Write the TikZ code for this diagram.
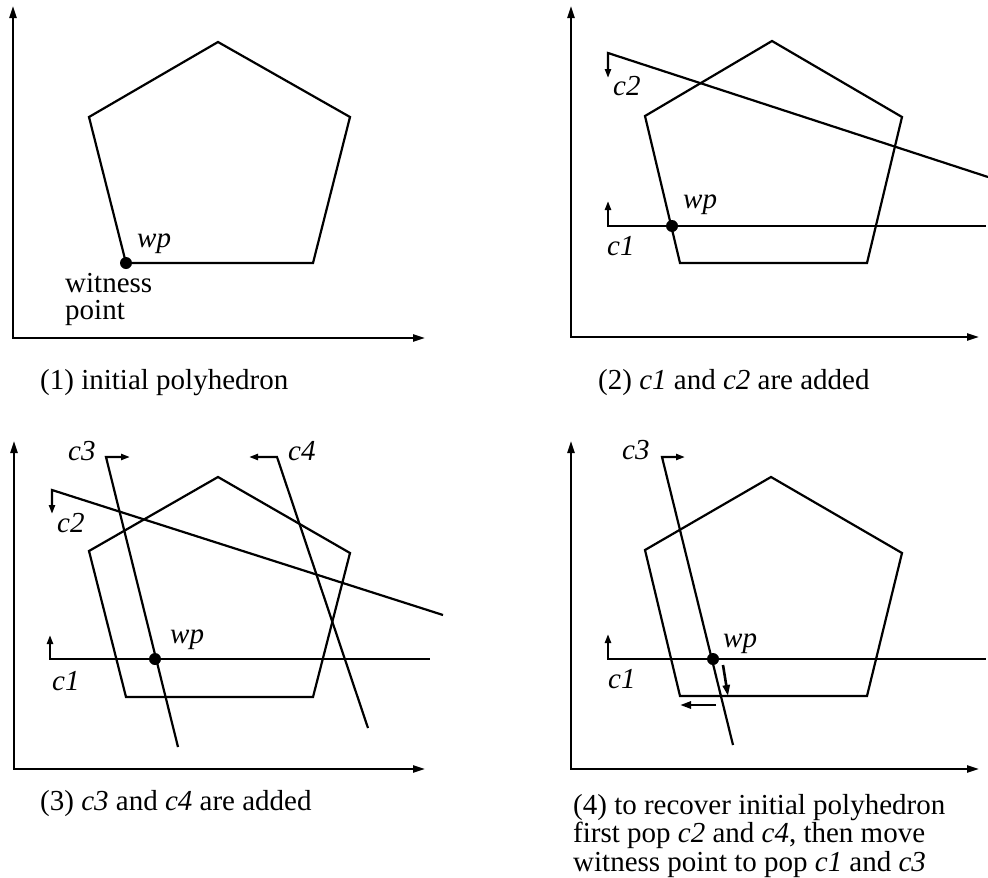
\documentclass[tikz,border=0pt]{standalone}
\usepackage{fontspec}
\setmainfont{Liberation Serif}
\usetikzlibrary{arrows.meta}
\tikzset{
  ln/.style={line width=2.2pt, line join=miter},
  axisln/.style={line width=2.2pt, {Triangle[length=12pt,width=7pt]}-{Triangle[length=12pt,width=7pt]}},
  tipstart/.style={line width=2.2pt, {Triangle[length=9pt,width=6pt]}-},
  tick/.style={line width=2.6pt, -{Triangle[length=11pt,width=7pt]}},
  lbl/.style={anchor=base west, inner sep=0pt, font=\fontsize{29}{27}\selectfont\itshape},
  txt/.style={anchor=base west, inner sep=0pt, font=\fontsize{29}{27}\selectfont},
  wpdot/.style={circle, fill=black, inner sep=0pt, minimum size=12pt},
}
\begin{document}
\begin{tikzpicture}[x=1pt,y=-1pt]
\useasboundingbox (0,0) rectangle (988,878);
% ================= Panel 1 =================
\coordinate (p1yt) at (13,6);
\coordinate (p1o) at (13,338);
\coordinate (p1xr) at (425,338);
\draw[axisln] (p1yt) -- (p1o) -- (p1xr);
\coordinate (p1A) at (218,42);
\coordinate (p1B) at (350,117);
\coordinate (p1C) at (313,263);
\coordinate (p1D) at (126,263);
\coordinate (p1E) at (89,117);
\draw[ln] (p1A) -- (p1B) -- (p1C) -- (p1D) -- (p1E) -- cycle;
\node[wpdot] (p1wp) at (p1D) {};
\node[lbl] (p1wpl) at (137,247) {wp};
\node[txt] (p1w1) at (65,292) {witness};
\node[txt] (p1w2) at (65,319) {point};
\node[txt] (cap1) at (40,389) {(1) initial polyhedron};
% ================= Panel 2 =================
\coordinate (p2yt) at (571,6);
\coordinate (p2o) at (571,337);
\coordinate (p2xr) at (979,337);
\draw[axisln] (p2yt) -- (p2o) -- (p2xr);
\coordinate (p2A) at (772,41);
\coordinate (p2B) at (902,117);
\coordinate (p2C) at (867,263);
\coordinate (p2D) at (680,263);
\coordinate (p2E) at (645,116);
\draw[ln] (p2A) -- (p2B) -- (p2C) -- (p2D) -- (p2E) -- cycle;
% c2
\coordinate (p2c2t) at (608,78);
\coordinate (p2c2a) at (608,53);
\coordinate (p2c2b) at (988,177);
\draw[tipstart] (p2c2t) -- (p2c2a) -- (p2c2b);
% c1
\coordinate (p2c1t) at (608,201);
\coordinate (p2c1a) at (608,226);
\coordinate (p2c1b) at (986,226);
\draw[tipstart] (p2c1t) -- (p2c1a) -- (p2c1b);
\node[wpdot] (p2wp) at (672,226) {};
\node[lbl] (p2wpl) at (683,208) {wp};
\node[lbl] (p2c2l) at (613,95) {c2};
\node[lbl] (p2c1l) at (607,255) {c1};
\node[txt] (cap2) at (598,389) {(2) \textit{c1} and \textit{c2} are added};
% ================= Panel 3 =================
\coordinate (p3yt) at (14,441);
\coordinate (p3o) at (14,769);
\coordinate (p3xr) at (425,769);
\draw[axisln] (p3yt) -- (p3o) -- (p3xr);
\coordinate (p3A) at (218,477);
\coordinate (p3B) at (350,553);
\coordinate (p3C) at (313,697);
\coordinate (p3D) at (126,697);
\coordinate (p3E) at (89,551);
\draw[ln] (p3A) -- (p3B) -- (p3C) -- (p3D) -- (p3E) -- cycle;
% c2
\coordinate (p3c2t) at (52,514);
\coordinate (p3c2a) at (52,490);
\coordinate (p3c2b) at (443,615);
\draw[tipstart] (p3c2t) -- (p3c2a) -- (p3c2b);
% c1
\coordinate (p3c1t) at (50,635);
\coordinate (p3c1a) at (50,659);
\coordinate (p3c1b) at (430,659);
\draw[tipstart] (p3c1t) -- (p3c1a) -- (p3c1b);
% c3
\coordinate (p3c3t) at (130,457);
\coordinate (p3c3a) at (106,457);
\coordinate (p3c3b) at (178,747);
\draw[tipstart] (p3c3t) -- (p3c3a) -- (p3c3b);
% c4
\coordinate (p3c4t) at (249,457);
\coordinate (p3c4a) at (277,457);
\coordinate (p3c4b) at (368,728);
\draw[tipstart] (p3c4t) -- (p3c4a) -- (p3c4b);
\node[wpdot] (p3wp) at (155,659) {};
\node[lbl] (p3wpl) at (170,643) {wp};
\node[lbl] (p3c1l) at (52,690) {c1};
\node[lbl] (p3c2l) at (57,532) {c2};
\node[lbl] (p3c3l) at (68,460) {c3};
\node[lbl] (p3c4l) at (288,460) {c4};
\node[txt] (cap3) at (40,810) {(3) \textit{c3} and \textit{c4} are added};
% ================= Panel 4 =================
\coordinate (p4yt) at (571,441);
\coordinate (p4o) at (571,769);
\coordinate (p4xr) at (979,769);
\draw[axisln] (p4yt) -- (p4o) -- (p4xr);
\coordinate (p4A) at (771,477);
\coordinate (p4B) at (902,553);
\coordinate (p4C) at (867,696);
\coordinate (p4D) at (680,696);
\coordinate (p4E) at (645,550);
\draw[ln] (p4A) -- (p4B) -- (p4C) -- (p4D) -- (p4E) -- cycle;
% c1
\coordinate (p4c1t) at (608,634);
\coordinate (p4c1a) at (608,659);
\coordinate (p4c1b) at (986,659);
\draw[tipstart] (p4c1t) -- (p4c1a) -- (p4c1b);
% c3
\coordinate (p4c3t) at (685,457);
\coordinate (p4c3a) at (662,457);
\coordinate (p4c3b) at (733,745);
\draw[tipstart] (p4c3t) -- (p4c3a) -- (p4c3b);
\node[wpdot] (p4wp) at (713,659) {};
% move arrows
\coordinate (p4da) at (723,665);
\coordinate (p4db) at (728,696);
\draw[tick] (p4da) -- (p4db);
\coordinate (p4la) at (716,705);
\coordinate (p4lb) at (680,705);
\draw[tick] (p4la) -- (p4lb);
\node[lbl] (p4wpl) at (723,647) {wp};
\node[lbl] (p4c1l) at (608,688) {c1};
\node[lbl] (p4c3l) at (622,459) {c3};
\node[txt] (cap4a) at (573,814) {(4) to recover initial polyhedron};
\node[txt] (cap4b) at (573,842) {first pop \textit{c2} and \textit{c4}, then move};
\node[txt] (cap4c) at (573,871) {witness point to pop \textit{c1} and \textit{c3}};
\end{tikzpicture}
\end{document}
